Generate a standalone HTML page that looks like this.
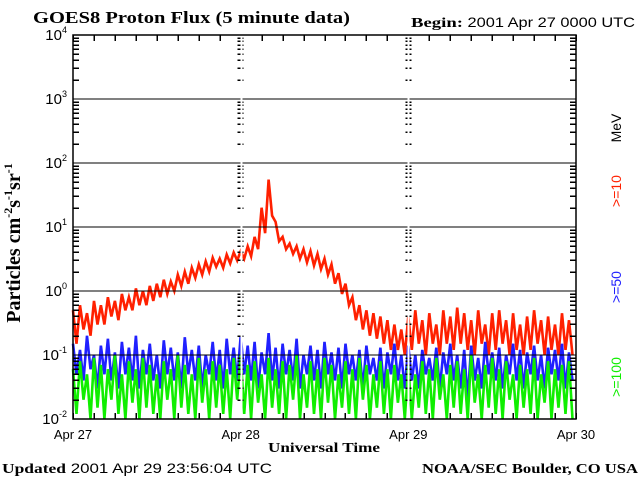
<!DOCTYPE html>
<html><head><meta charset="utf-8"><style>
html,body{margin:0;padding:0;background:#fff;}
svg{display:block;}
.s{font-family:"Liberation Serif",serif;font-weight:bold;}
.n{font-family:"Liberation Sans",sans-serif;}
</style></head><body>
<svg id="c" width="640" height="480" xmlns="http://www.w3.org/2000/svg">
<text class="s" x="33" y="23" font-size="17" textLength="317" lengthAdjust="spacingAndGlyphs">GOES8 Proton Flux (5 minute data)</text>
<text x="411" y="27" font-size="14"><tspan class="s" textLength="52" lengthAdjust="spacingAndGlyphs">Begin:</tspan><tspan class="n" font-size="14" textLength="172" lengthAdjust="spacingAndGlyphs"> 2001 Apr 27 0000 UTC</tspan></text>
<text x="2" y="473" font-size="14"><tspan class="s" textLength="64" lengthAdjust="spacingAndGlyphs">Updated</tspan><tspan class="n" font-size="14" textLength="206" lengthAdjust="spacingAndGlyphs"> 2001 Apr 29 23:56:04 UTC</tspan></text>
<text class="s" x="422" y="473" font-size="14" textLength="216" lengthAdjust="spacingAndGlyphs">NOAA/SEC Boulder, CO USA</text>
<text class="s" x="268" y="452" font-size="14" textLength="112" lengthAdjust="spacingAndGlyphs">Universal Time</text>
<text class="s" font-size="20" transform="translate(20,243) rotate(-90)" text-anchor="middle" font-weight="normal">Particles cm<tspan font-size="12" dy="-8">-2</tspan><tspan dy="8">s</tspan><tspan font-size="12" dy="-8">-1</tspan><tspan dy="8">sr</tspan><tspan font-size="12" dy="-8">-1</tspan></text>
<g class="n" font-size="14" text-anchor="middle">
<text transform="translate(621,128) rotate(-90)" fill="#000">MeV</text>
<text transform="translate(621,191) rotate(-90)" fill="#ff2000">&gt;=10</text>
<text transform="translate(621,287) rotate(-90)" fill="#2020ff">&gt;=50</text>
<text transform="translate(621,377) rotate(-90)" fill="#10ee00">&gt;=100</text>
</g>
<g id="plot"></g>
</svg>
<script>
const xLabels=["Apr 27","Apr 28","Apr 29","Apr 30"];
const yExps=[-2,-1,0,1,2,3,4];
const redHi=[0.5,0.6,0.45,0.7,0.6,0.8,0.7,0.9,0.8,1.1,1.0,1.2,1.3,1.5,1.4,1.8,2.0,2.3,2.6,2.9,3.3,3.2,3.7,4.0,
4.2,5,7,20,55,12,7,5.5,5,4.5,4.2,3.8,3.2,2.6,1.9,1.3,0.8,0.6,0.5,0.45,0.4,0.35,0.3,0.25,
0.4,0.5,0.35,0.45,0.3,0.5,0.4,0.55,0.45,0.35,0.5,0.3,0.45,0.5,0.35,0.45,0.3,0.4,0.5,0.35,0.4,0.3,0.45,0.35];
const redLo=[0.15,0.25,0.2,0.3,0.3,0.4,0.35,0.5,0.5,0.6,0.6,0.7,0.8,0.9,1.0,1.2,1.3,1.6,1.8,2.0,2.4,2.3,2.7,3.0,
3.2,3.5,4.5,8,15,6,4.5,3.8,3.2,2.8,2.5,2.2,1.8,1.3,0.9,0.6,0.35,0.25,0.2,0.18,0.15,0.12,0.12,0.1,
0.12,0.15,0.1,0.15,0.1,0.15,0.12,0.15,0.12,0.1,0.15,0.1,0.12,0.15,0.1,0.12,0.1,0.12,0.15,0.1,0.12,0.1,0.12,0.1];
const blueHi=[0.15,0.12,0.2,0.1,0.14,0.18,0.11,0.16,0.13,0.2,0.12,0.15,0.1,0.17,0.13,0.11,0.19,0.12,0.14,0.1,0.16,0.12,0.18,0.13,
0.2,0.14,0.16,0.11,0.22,0.13,0.15,0.12,0.18,0.1,0.14,0.12,0.16,0.11,0.13,0.15,0.1,0.12,0.14,0.09,0.13,0.11,0.15,0.1,
0.14,0.1,0.12,0.09,0.13,0.11,0.15,0.1,0.12,0.14,0.09,0.16,0.11,0.13,0.1,0.15,0.12,0.11,0.14,0.1,0.13,0.12,0.15,0.11];
const blueLo=[0.05,0.04,0.06,0.03,0.05,0.04,0.03,0.05,0.04,0.03,0.05,0.04,0.03,0.05,0.04,0.03,0.05,0.04,0.03,0.05,0.04,0.03,0.05,0.04,
0.05,0.04,0.03,0.05,0.04,0.03,0.05,0.04,0.03,0.05,0.04,0.03,0.05,0.04,0.03,0.05,0.04,0.03,0.05,0.04,0.03,0.05,0.04,0.03,
0.04,0.03,0.05,0.04,0.03,0.05,0.04,0.03,0.02,0.04,0.03,0.05,0.04,0.03,0.05,0.04,0.03,0.05,0.04,0.03,0.05,0.04,0.03,0.04];
const greenHi=[0.06,0.08,0.05,0.09,0.07,0.06,0.1,0.05,0.08,0.06,0.09,0.07,0.05,0.08,0.06,0.1,0.07,0.05,0.09,0.06,0.08,0.07,0.06,0.09,
0.1,0.07,0.08,0.05,0.09,0.06,0.08,0.07,0.1,0.05,0.08,0.06,0.09,0.07,0.05,0.08,0.06,0.09,0.07,0.05,0.08,0.06,0.07,0.05,
0.07,0.05,0.08,0.06,0.09,0.05,0.07,0.08,0.06,0.1,0.05,0.07,0.09,0.06,0.08,0.05,0.07,0.06,0.09,0.05,0.08,0.06,0.07,0.08];
const greenLo=[0.012,0.02,0.01,0.015,0.01,0.02,0.012,0.01,0.018,0.01,0.015,0.012,0.01,0.02,0.01,0.015,0.012,0.01,0.018,0.01,0.015,0.012,0.01,0.02,
0.012,0.01,0.018,0.01,0.015,0.012,0.01,0.02,0.01,0.015,0.012,0.01,0.018,0.01,0.015,0.012,0.01,0.02,0.01,0.015,0.012,0.01,0.018,0.01,
0.01,0.015,0.012,0.01,0.02,0.01,0.015,0.012,0.01,0.018,0.01,0.015,0.012,0.01,0.02,0.01,0.015,0.012,0.01,0.018,0.01,0.015,0.012,0.01];

const L=73,R=576,T=35,B=419,NS="http://www.w3.org/2000/svg";
const xs=h=>L+(R-L)*h/72;
const ys=v=>B-(Math.log10(v)+2)*(B-T)/6;
const g=document.getElementById('plot');
function mk(tag,attrs){const e=document.createElementNS(NS,tag);for(const k in attrs)e.setAttribute(k,attrs[k]);g.appendChild(e);return e;}
function line(x1,y1,x2,y2,w){return mk('line',{x1,y1,x2,y2,stroke:'#000','stroke-width':w||1,'shape-rendering':'crispEdges'});}

function series(hi,lo,color,name){
  let pts=[];
  for(let i=0;i<hi.length;i++){pts.push(xs(i).toFixed(1)+','+ys(hi[i]).toFixed(1));pts.push(xs(i+0.5).toFixed(1)+','+ys(lo[i]).toFixed(1));}
  const p=mk('polyline',{points:pts.join(' '),fill:'none',stroke:color,'stroke-width':2.6,'stroke-linejoin':'miter'});
  
  
}
series(redHi,redLo,'#ff2000','series-ge10-mev');
series(blueHi,blueLo,'#2020ff','series-ge50-mev');
series(greenHi,greenLo,'#10ee00','series-ge100-mev');

yExps.forEach(e=>{const y=Math.round(ys(Math.pow(10,e)));const l=line(L,y,R,y,1.3);


const t=document.createElementNS(NS,'text');t.setAttribute('x',L-6);t.setAttribute('y',y+5);t.setAttribute('text-anchor','end');t.setAttribute('font-size','15');t.setAttribute('class','n');
t.innerHTML='10<tspan font-size="9" dy="-7">'+e+'</tspan>';


g.appendChild(t);});
for(let e=-2;e<4;e++)for(let m=2;m<10;m++){const y=Math.round(ys(m*Math.pow(10,e)));
  [[L,L+6],[R-6,R],[xs(24)-3,xs(24)+3],[xs(48)-3,xs(48)+3]].forEach(a=>line(a[0],y,a[1],y,1.5));}
for(let h=0;h<=72;h+=3){const x=Math.round(xs(h));line(x,B,x,B-6,1.5);line(x,T,x,T+6,1.5);}
[24,48].forEach(h=>{const x=Math.round(xs(h))+0.5;mk('line',{x1:x,y1:T,x2:x,y2:B,stroke:'#fff','stroke-width':2});});
const fr=mk('rect',{x:L,y:T,width:R-L,height:B-T,fill:'none',stroke:'#000','stroke-width':1.5});


xLabels.forEach((s,i)=>{const t=document.createElementNS(NS,'text');t.setAttribute('x',xs(i*24));t.setAttribute('y',439);t.setAttribute('text-anchor','middle');t.setAttribute('font-size','13');t.setAttribute('class','n');t.textContent=s;


g.appendChild(t);});
</script>
</body></html>
